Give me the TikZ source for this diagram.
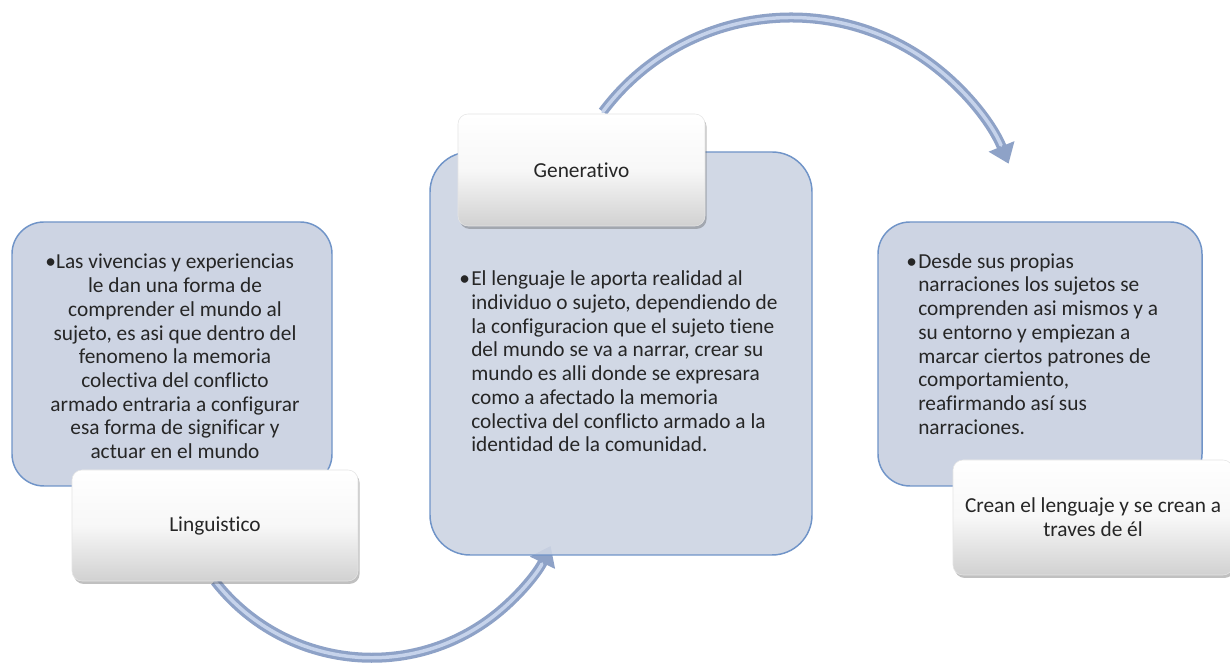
\documentclass[tikz,border=0pt]{standalone}
\usepackage{fontspec}
\setmainfont{Carlito}[Ligatures=NoCommon]
\usetikzlibrary{arrows.meta,shadows}
\definecolor{boxfill}{HTML}{CDD4E3}
\definecolor{boxline}{HTML}{7094C8}
\definecolor{arrowdark}{HTML}{8EA2C7}
\definecolor{arrowlight}{HTML}{C6D3EB}
\definecolor{txt}{HTML}{262626}
\pgfdeclarelayer{bg}
\pgfdeclarelayer{canvas}
\pgfsetlayers{canvas,bg,main}
\begin{document}
\begin{tikzpicture}[x=0.75pt,y=0.75pt,
  bluebox/.style={draw=boxline, line width=1.1pt, fill=boxfill, rounded corners=24pt, inner sep=0pt},
  labelbox/.style={rounded corners=7.5pt, draw=black!10, line width=0.4pt,
    top color=white, bottom color=black!18, middle color=white!97!black,
    drop shadow={shadow xshift=1.2pt, shadow yshift=-2.2pt, opacity=0.35, fill=black!70},
    font=\fontsize{16pt}{18pt}\selectfont, text=txt, align=center, inner sep=0pt},
  bodytext/.style={font=\fontsize{16pt}{17.8pt}\selectfont, text=txt, inner sep=0pt},
  arrowouter/.style={draw=arrowdark, line width=7.5pt, -{Triangle[width=20pt,length=14pt]}},
  arrowinner/.style={draw=arrowlight, line width=2.6pt, shorten >=15pt, line cap=round}
]
\useasboundingbox (0,0) rectangle (1230,666);
\path[clip] (0,0) rectangle (1230,666);
\begin{pgfonlayer}{canvas}
\fill[white] (0,0) rectangle (1230,666);
\end{pgfonlayer}

% left group
\node[bluebox, minimum width=240pt, minimum height=198pt] (lbox) at (172,312) {};
\node[bodytext, align=center] (ltext) at (175,309.5) {\llap{\textbullet}Las vivencias y experiencias\\
le dan una forma de\\
comprender el mundo al\\
sujeto, es asi que dentro del\\
fenomeno la memoria\\
colectiva del conflicto\\
armado entraria a configurar\\
esa forma de significar y\\
actuar en el mundo};
\node[labelbox, minimum width=214.5pt, minimum height=83.25pt] (ling) at (215,140.5) {Linguistico};

% middle group
\node[bluebox, rounded corners=30pt, fill opacity=0.9, minimum width=286.5pt, minimum height=302.25pt] (mbox) at (621,312.5) {};
\node[bodytext, align=left, anchor=west] (mtext) at (471,304.5) {\llap{\textbullet\hspace{1pt}}El lenguaje le aporta realidad al\\
individuo o sujeto, dependiendo de\\
la configuracion que el sujeto tiene\\
del mundo se va a narrar, crear su\\
mundo es alli donde se expresara\\
como a afectado la memoria\\
colectiva del conflicto armado a la\\
identidad de la comunidad.};
\node[labelbox, minimum width=185.25pt, minimum height=84pt] (gen) at (581.5,496) {Generativo};

% right group
\node[bluebox, minimum width=243pt, minimum height=198pt] (rbox) at (1040,312) {};
\node[bodytext, align=left, anchor=west] (rtext) at (918,322) {\llap{\textbullet\hspace{1pt}}Desde sus propias\\
narraciones los sujetos se\\
comprenden asi mismos y a\\
su entorno y empiezan a\\
marcar ciertos patrones de\\
comportamiento,\\
reafirmando así sus\\
narraciones.};
\node[labelbox, minimum width=210pt, minimum height=86.25pt] (crean) at (1093,148.5) {Crean el lenguaje y se crean a\\traves de él};

% arrows (behind the boxes)
\begin{pgfonlayer}{bg}
\draw[arrowouter] (ling.south) arc[start angle=218, end angle=334, radius=199];
\draw[arrowinner] (ling.south) arc[start angle=218, end angle=334, radius=199];
\draw[arrowouter] ([xshift=16pt,yshift=1.5pt]gen.north) arc[start angle=143.2, end angle=22.2, radius=235];
\draw[arrowinner] ([xshift=16pt,yshift=1.5pt]gen.north) arc[start angle=143.2, end angle=22.2, radius=235];
\end{pgfonlayer}
\end{tikzpicture}
\end{document}
